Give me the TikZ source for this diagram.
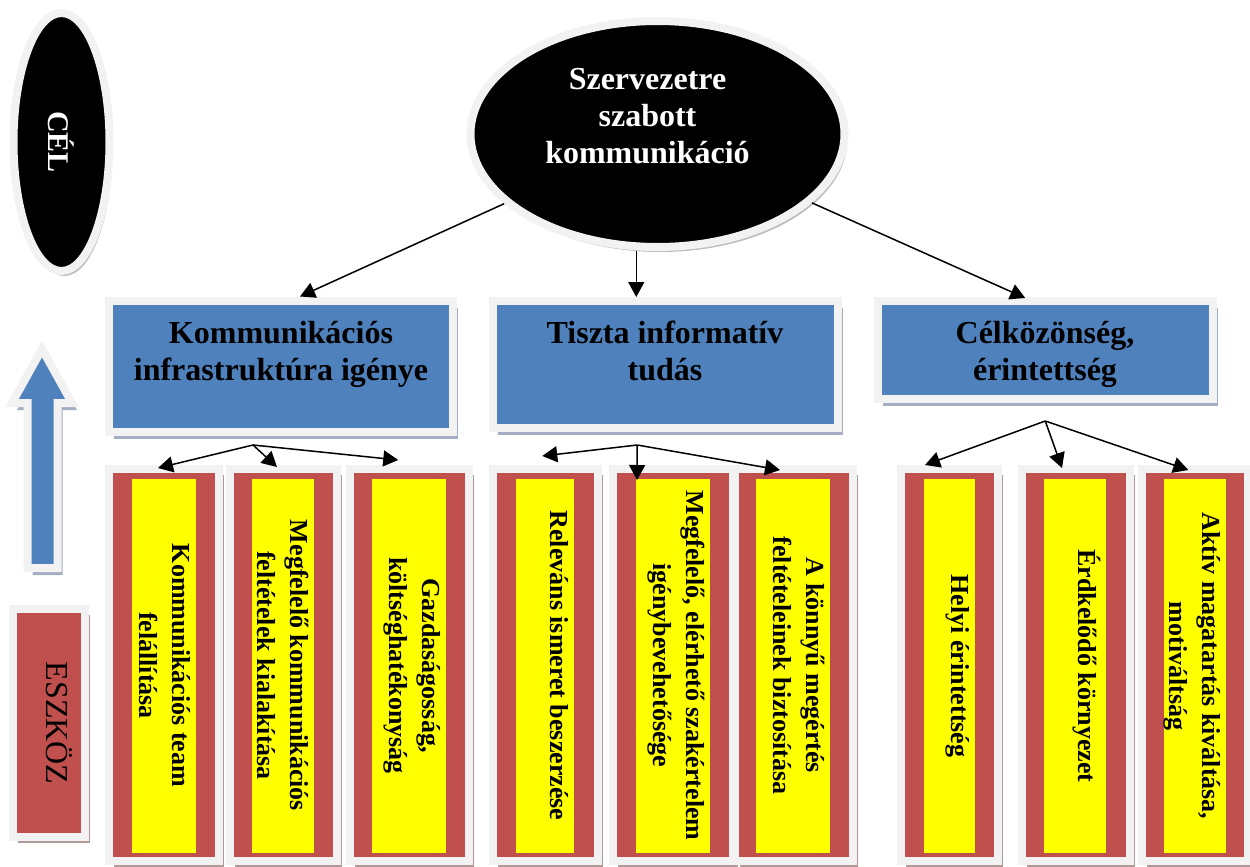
\documentclass[tikz,border=0pt]{standalone}
\usepackage{fontspec}
\setmainfont{Liberation Serif}
\usepackage{graphicx}
\usetikzlibrary{arrows.meta,shadows,calc,shapes.geometric}
\definecolor{bluec}{HTML}{4F81BD}
\definecolor{redc}{HTML}{C0504D}
\definecolor{ringc}{HTML}{F2F2F2}
\definecolor{yel}{HTML}{FFFF00}
\definecolor{bshadow}{HTML}{A3AEC2}
\definecolor{rshadow}{HTML}{B39A9A}
\definecolor{gshadow}{HTML}{BDBDBD}
\begin{document}
\begin{tikzpicture}[x=1pt,y=-1pt,
  ring/.style={draw=ringc, line width=8pt},
  blueshade/.style={drop shadow={shadow xshift=5pt,shadow yshift=-7pt,fill=bshadow,opacity=1}},
  redshade/.style={drop shadow={shadow xshift=5pt,shadow yshift=-6pt,fill=rshadow,opacity=1}},
  greyshade/.style={drop shadow={shadow xshift=3pt,shadow yshift=-5pt,fill=gshadow,opacity=1}},
  bluebox/.style={rectangle, ring, fill=bluec, inner sep=0, blueshade},
  bluetext/.style={anchor=base, inner sep=0, font=\fontsize{32}{37}\selectfont\bfseries},
  redbox/.style={rectangle, ring, fill=redc, inner sep=0, minimum height=392, redshade},
  ybox/.style={rectangle, fill=yel, rotate=-90, inner sep=0, minimum width=374},
  ytext/.style={rotate=-90, anchor=north, inner sep=5pt, align=center, font=\fontsize{26}{33}\selectfont\bfseries},
  conn/.style={line width=1.5pt, -{Triangle[length=15pt,width=16pt]}}
]
\useasboundingbox (0,0) rectangle (1250,867);

% CEL ellipse
\node[ellipse, ring, fill=black, minimum width=96, minimum height=258, inner sep=0, greyshade,
      text=white, font=\fontsize{30}{36}\selectfont\bfseries] (cel) at (61.5,142) {\rotatebox{-90}{CÉL}};

% up arrow
\draw[ring, fill=bluec, line join=miter, blueshade]
  (42,349) -- (72,403) -- (57.5,403) -- (57.5,568) -- (27.5,568) -- (27.5,403) -- (12,403) -- cycle;

% ESZKOZ box
\node[rectangle, ring, fill=redc, minimum width=72, minimum height=228, inner sep=0, redshade,
      font=\fontsize{32}{38}\selectfont] (eszkoz) at (48.5,723) {\hspace*{22pt}\rotatebox{-90}{ESZKÖZ}};

% top ellipse
\node[ellipse, ring, fill=black, minimum width=374, minimum height=226, inner sep=0, greyshade] (top) at (657.5,134) {};
\node[anchor=base, inner sep=0, text=white, font=\fontsize{32}{37}\selectfont\bfseries] (toptxt)
  at ($(top.center)+(-10,-45)$) {\begin{tabular}[t]{@{}c@{}}Szervezetre\\szabott\\kommunikáció\end{tabular}};

% blue boxes
\node[bluebox, minimum width=344, minimum height=131.5] (b1) at (281,366.25) {};
\node[bluetext] (t1) at (281,343) {\begin{tabular}[t]{@{}c@{}}Kommunikációs\\infrastruktúra igénye\end{tabular}};
\node[bluebox, minimum width=344.5, minimum height=127] (b2) at (665.25,364.5) {};
\node[bluetext] (t2) at (665,343) {\begin{tabular}[t]{@{}c@{}}Tiszta informatív\\tudás\end{tabular}};
\node[bluebox, minimum width=335.5, minimum height=98] (b3) at (1045.25,350) {};
\node[bluetext] (t3) at (1045,343) {\begin{tabular}[t]{@{}c@{}}Célközönség,\\érintettség\end{tabular}};

% red / yellow boxes
\node[redbox, minimum width=110] (rA) at (164,665) {};
\node[ybox, minimum height=64] (yA) at (164,665.5) {};
\node[ytext] (tA) at (yA.north) {Kommunikációs team\\felállítása};

\node[redbox, minimum width=107] (rB) at (283,665) {};
\node[ybox, minimum height=62] (yB) at (283,665.5) {};
\node[ytext] (tB) at (yB.north) {Megfelelő kommunikációs\\feltételek kialakítása};

\node[redbox, minimum width=119.5] (rC) at (409.25,665) {};
\node[ybox, minimum height=74] (yC) at (409,665.5) {};
\node[ytext] (tC) at (yC.north) {Gazdaságosság,\\költséghatékonyság};

\node[redbox, minimum width=104.5] (rD) at (545.25,665) {};
\node[ybox, minimum height=58] (yD) at (545,665.5) {};
\node[ytext] (tD) at (yD.north) {Releváns ismeret beszerzése};

\node[redbox, minimum width=120] (rE) at (673,665) {};
\node[ybox, minimum height=74] (yE) at (673,665.5) {};
\node[ytext] (tE) at (yE.north) {Megfelelő, elérhető szakértelem\\igénybevehetősége};

\node[redbox, minimum width=118] (rF) at (794,665) {};
\node[ybox, minimum height=74] (yF) at (793,665.5) {};
\node[ytext] (tF) at (yF.north) {A könnyű megértés\\feltételeinek biztosítása};

\node[redbox, minimum width=97] (rG) at (949.5,665) {};
\node[ybox, minimum height=51] (yG) at (949.5,666) {};
\node[ytext] (tG) at (yG.north) {Helyi érintettség};

\node[redbox, minimum width=108] (rH) at (1075.5,665) {};
\node[ybox, minimum height=62] (yH) at (1075,666) {};
\node[ytext] (tH) at (yH.north) {Érdkelődő környezet};

\node[redbox, minimum width=105.5] (rI) at (1194.75,665) {};
\node[ybox, minimum height=62] (yI) at (1195,666) {};
\node[ytext] (tI) at (yI.north) {Aktív magatartás kiváltása,\\motiváltság};

% connectors from top ellipse
\coordinate (b2tip) at ($(b2.north)+(-29,0)$);
\draw[conn] (top) -- ($(b1.north)+(19,0)$);
\draw[conn] (top.south -| b2tip) -- (b2tip);
\draw[conn] (top) -- ($(b3.north)+(-20,1)$);

% group connectors
\coordinate (g1) at ($(b1.south)+(-28,9)$);
\draw[conn] (g1) -- ($(rA.north)+(-6,3)$);
\draw[conn] (g1) -- ($(rB.north)+(-6,2)$);
\draw[conn] (g1) -- ($(rC.north)+(-11,-5)$);

\coordinate (g2) at ($(b2.south)+(-28,13)$);
\draw[conn] (g2) -- ($(rD.north)+(-3,-9)$);
\draw[conn] (g2) -- ($(rE.north)+(-36,15)$);
\draw[conn] (g2) -- ($(rF.north)+(-14,5)$);

\coordinate (g3) at ($(b3.south)+(0,18)$);
\draw[conn] (g3) -- ($(rG.north)+(-24.5,0)$);
\draw[conn] (g3) -- ($(rH.north)+(-13.5,3)$);
\draw[conn] (g3) -- ($(rI.north)+(-6.5,5)$);
\end{tikzpicture}
\end{document}
